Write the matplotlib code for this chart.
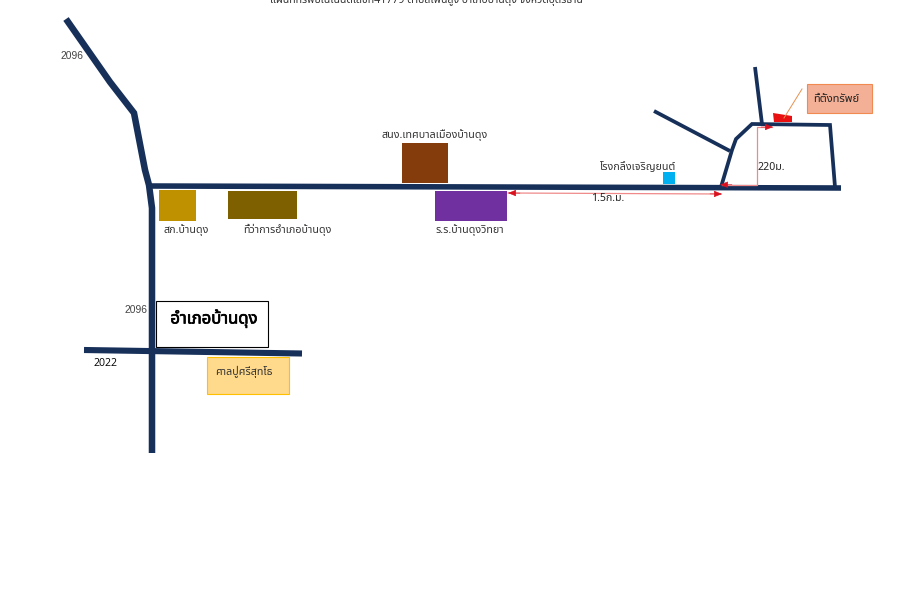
import matplotlib
matplotlib.use('Agg')
import matplotlib.pyplot as plt
import matplotlib.patheffects as pe
from matplotlib.patches import Polygon, Rectangle

plt.rcParams['font.family'] = ['Noto Sans Thai', 'Sarabun', 'Loma', 'FreeSerif', 'DejaVu Sans']

# roads, picture pixels
road_north = [(66, 19), (110, 82), (134, 113), (145, 170), (149, 185), (152, 208), (152, 453)]
road_main = [(150, 186), (841, 188)]
road_2022 = [(84, 350), (302, 353.5)]
soi_loop = [(721, 187), (732, 150), (736, 139), (752, 124), (830, 125), (835, 187)]
soi_up = [(755, 67), (762, 124)]
soi_left = [(654, 111), (730, 151)]

# buildings: x0, y0, x1, y1, colour
buildings = [
    (159, 190, 196, 221, '#BF9000'),
    (228, 191, 297, 219, '#7F6000'),
    (402, 143, 448, 183, '#843C0C'),
    (435, 191, 507, 221, '#7030A0'),
    (663, 172, 675, 184, '#00B0F0'),
]
plot_shape = [(773, 113), (792, 116), (792, 122), (774, 122)]

# labels: text, x, y
labels = [
    ('สภ.บ้านดุง', 186, 230),
    ('ที่ว่าการอำเภอบ้านดุง', 287, 230),
    ('สนง.เทศบาลเมืองบ้านดุง', 435, 135),
    ('ร.ร.บ้านดุงวิทยา', 470, 230),
    ('โรงกลึงเจริญยนต์', 638, 167),
]
title = 'แผนที่ทรัพย์ในโฉนดเลขที่41779 ตำบลโพนสูง อำเภอบ้านดุง จังหวัดอุดรธานี'
navy = '#17305A'
salmon = '#F08A8A'
arrow_red = '#D9101E'

fig = plt.figure(figsize=(9.1, 5.89), dpi=100)
ax = fig.add_axes([0, 0, 1, 1])
ax.set_xlim(0, 910)
ax.set_ylim(589, 0)
ax.axis('off')


def road(pts, w):
    ax.plot([p[0] for p in pts], [p[1] for p in pts], color=navy, lw=w,
            solid_joinstyle='miter', solid_capstyle='butt', zorder=3)


def head(tip, tail):
    ax.annotate('', xy=tip, xytext=tail, zorder=6,
                arrowprops=dict(arrowstyle='-|>,head_length=0.5,head_width=0.2', color=arrow_red,
                                lw=0.4, shrinkA=0, shrinkB=0, mutation_scale=10))


road(road_north, 4.7)
road(road_main, 4.0)
road(road_2022, 4.4)
road(soi_loop, 2.7)
road(soi_up, 2.7)
road(soi_left, 2.7)

for x0, y0, x1, y1, c in buildings:
    ax.add_patch(Rectangle((x0, y0), x1 - x0, y1 - y0, fc=c, ec='none', zorder=2))
ax.add_patch(Polygon(plot_shape, fc='#E81010', ec='none', zorder=4))

for txt, x, y in labels:
    ax.text(x, y, txt, ha='center', va='center', fontsize=7.7, color='#333333', zorder=5)

# title is cut by the top edge, same as the source
ax.text(426, 0, title, ha='center', va='center', fontsize=7.6, color='#333333')

# route numbers
ax.text(72, 56, '2096', ha='center', va='center', fontsize=7.4, color='#444444',
        family='Liberation Sans')
ax.text(136, 310, '2096', ha='center', va='center', fontsize=7.4, color='#444444',
        family='Liberation Sans')
ax.text(105, 364, '2022', ha='center', va='center', fontsize=7.6, color='black',
        family='Open Sans')

# district box
ax.add_patch(Rectangle((157, 302), 112, 45.5, fc='#999999', ec='none', zorder=5))
ax.add_patch(Rectangle((156.3, 301.3), 111.5, 45.2, fc='white', ec='black', lw=0.8, zorder=6))
ax.text(214, 319, 'อำเภอบ้านดุง', ha='center', va='center', fontsize=12, color='black', zorder=7,
        path_effects=[pe.withStroke(linewidth=0.5, foreground='black')])

# shrine box
ax.add_patch(Rectangle((207, 357), 81.5, 36.5, fc='#FFD98C', ec='#FFC000', lw=0.8, zorder=2))
ax.text(244, 371.5, 'ศาลปู่ศรีสุทโธ', ha='center', va='center', fontsize=7.7, color='#333333', zorder=5)

# property callout
ax.add_patch(Rectangle((807, 84), 65, 29, fc='#F4B096', ec='#F08A50', lw=0.8, zorder=2))
ax.text(836, 99.5, 'ที่ตั้งทรัพย์', ha='center', va='center', fontsize=8, color='#222222', zorder=5)
ax.plot([802, 784], [89, 118], color='#E8914F', lw=0.7, zorder=5)

# distance arrows
ax.plot([508, 721], [193, 194], color=salmon, lw=0.9, zorder=4)
head((508, 193), (520, 193.1))
head((722, 194), (710, 193.9))
ax.plot([722, 757, 757, 772], [185, 185, 127, 127], color=salmon, lw=0.9, zorder=4)
head((720, 184.7), (732, 184.7))
head((773, 127), (761, 127))
ax.text(608, 198.5, '1.5ก.ม.', ha='center', va='center', fontsize=7.6, color='#222222', zorder=5)
ax.text(771, 167, '220ม.', ha='center', va='center', fontsize=7.6, color='#222222', zorder=5)

fig.savefig('out.png', dpi=100)
